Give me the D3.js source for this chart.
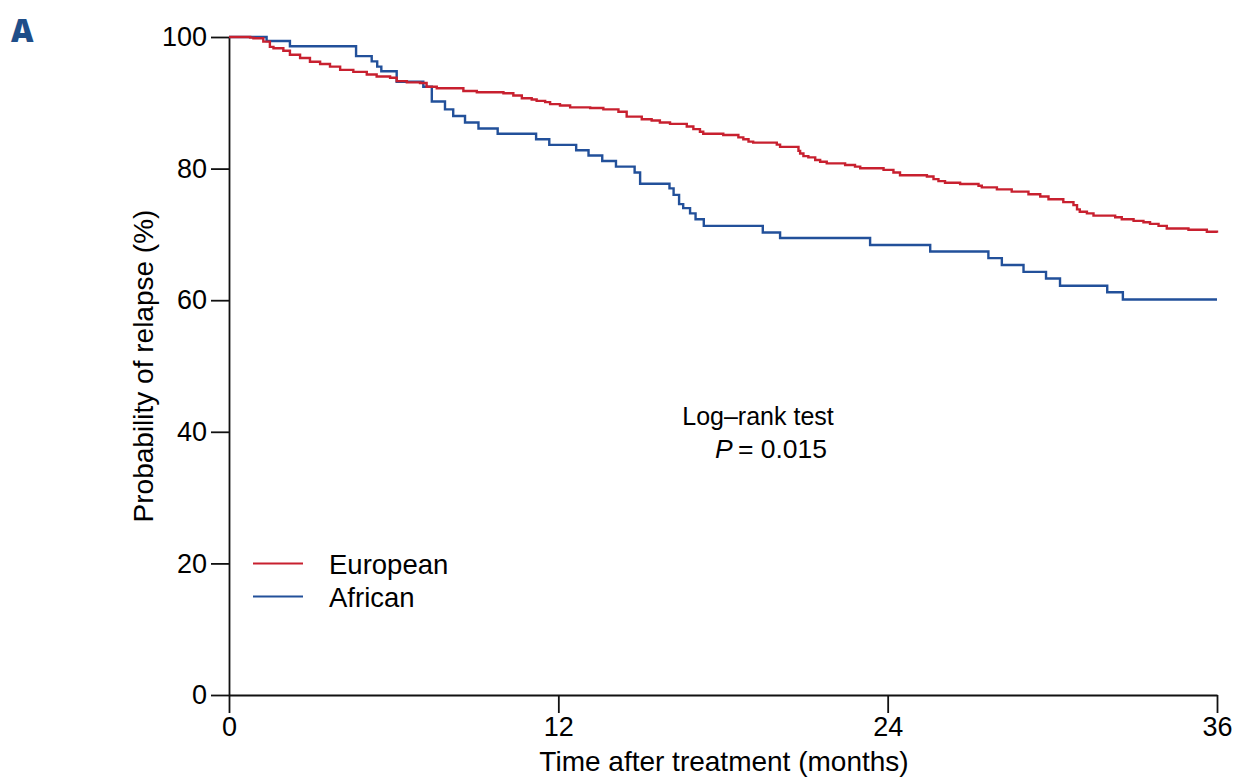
<!DOCTYPE html>
<html>
<head>
<meta charset="utf-8">
<script src="https://cdn.jsdelivr.net/npm/d3@7"></script>
<style>
  html, body { margin: 0; padding: 0; background: #ffffff; }
  svg { display: block; font-family: "Liberation Sans", Arial, Helvetica, sans-serif; }
</style>
</head>
<body>
<svg id="chart" width="1238" height="777"></svg>
<script>
// ---- data ----
const seriesNames = ["European", "African"];
const europeanTime = [0, 0.77, 0.89, 1.25, 1.49, 1.62, 1.98, 2.22, 2.59, 2.95, 3.32, 3.68, 4.05, 4.53, 5.02, 5.38, 5.87, 6.11, 6.48, 6.96, 7.2, 7.57, 8.54, 9.03, 10.0, 10.36, 10.67, 11.03, 11.21, 11.52, 11.7, 12.06, 12.43, 13.16, 13.64, 14.19, 14.49, 15.04, 15.4, 15.7, 16.07, 16.68, 16.92, 17.16, 17.28, 18.01, 18.56, 18.74, 18.93, 19.1, 19.96, 20.08, 20.75, 20.81, 20.93, 21.11, 21.36, 21.54, 21.78, 22.45, 22.81, 23.0, 23.85, 24.21, 24.45, 25.43, 25.67, 25.85, 26.09, 26.64, 27.31, 27.43, 27.98, 28.52, 29.13, 29.56, 29.86, 30.4, 30.77, 30.9, 31.0, 31.26, 31.5, 32.29, 32.53, 32.96, 33.32, 33.56, 33.87, 34.17, 34.96, 35.63, 36];
const europeanValue = [100, 99.9, 99.8, 99.3, 98.5, 98.3, 97.9, 97.3, 96.8, 96.25, 95.9, 95.5, 95.0, 94.7, 94.3, 94.0, 93.8, 93.3, 93.1, 93.0, 92.45, 92.2, 91.8, 91.6, 91.45, 91.1, 90.7, 90.5, 90.3, 90.1, 89.8, 89.6, 89.3, 89.2, 89.0, 88.65, 87.9, 87.5, 87.3, 87.0, 86.8, 86.4, 86.0, 85.6, 85.3, 85.1, 84.75, 84.45, 84.1, 83.95, 83.65, 83.3, 82.7, 82.3, 81.9, 81.7, 81.3, 81.05, 80.8, 80.55, 80.3, 80.05, 79.8, 79.4, 79.0, 78.8, 78.4, 78.1, 77.85, 77.65, 77.4, 77.15, 76.85, 76.5, 76.1, 75.75, 75.35, 74.9, 74.45, 73.8, 73.45, 73.2, 72.85, 72.6, 72.3, 72.05, 71.85, 71.6, 71.3, 70.9, 70.7, 70.4, 70.25];
const africanTime = [0, 1.37, 2.22, 4.63, 5.2, 5.4, 5.55, 6.11, 7.08, 7.39, 7.87, 8.17, 8.6, 9.09, 9.79, 11.19, 11.67, 12.65, 13.1, 13.6, 14.1, 14.78, 14.98, 16.05, 16.2, 16.4, 16.55, 16.8, 17.0, 17.3, 19.45, 20.08, 23.36, 25.55, 27.67, 28.16, 28.95, 29.77, 30.28, 32.0, 32.57, 36];
const africanValue = [100, 99.4, 98.6, 97.1, 96.3, 95.5, 94.8, 93.2, 92.45, 90.2, 89.0, 88.0, 87.0, 86.1, 85.3, 84.45, 83.6, 82.8, 82.0, 81.15, 80.3, 79.4, 77.7, 77.0, 76.0, 74.6, 74.0, 73.2, 72.3, 71.3, 70.3, 69.45, 68.4, 67.4, 66.4, 65.35, 64.3, 63.3, 62.2, 61.2, 60.1, 60.1];
const xTicks = [0, 12, 24, 36];
const yTicks = [0, 20, 40, 60, 80, 100];
const seriesColors = ["#c8202f", "#22509a"];

// ---- layout ----
const svg = d3.select("#chart");
svg.append("rect").attr("width", 1238).attr("height", 777).attr("fill", "#ffffff");

const x = d3.scaleLinear().domain([0, 36]).range([229, 1217]);
const y = d3.scaleLinear().domain([0, 100]).range([695, 37]);

// panel letter
svg.append("text").attr("x", 11).attr("y", 42)
  .attr("font-size", 31).attr("font-weight", "800").attr("fill", "#1f4e89")
  .attr("font-family", "Open Sans, Liberation Sans, sans-serif")
  .text("A");

// axes
const yAxis = svg.append("g").attr("transform", "translate(229,0)")
  .call(d3.axisLeft(y).tickValues(yTicks).tickSize(18).tickPadding(4).tickSizeOuter(0));
const xAxis = svg.append("g").attr("transform", "translate(0,695)")
  .call(d3.axisBottom(x).tickValues(xTicks).tickSize(18).tickPadding(4).tickSizeOuter(0));
[yAxis, xAxis].forEach(g => {
  g.selectAll("path, line").attr("stroke", "#111").attr("stroke-width", 1.8);
  g.selectAll("text").attr("font-size", 27).attr("fill", "#000")
    .attr("font-family", "Liberation Sans, Arial, sans-serif");
});

// axis titles
svg.append("text").attr("x", 724).attr("y", 771).attr("text-anchor", "middle")
  .attr("font-size", 28).attr("fill", "#000").text("Time after treatment (months)");
svg.append("text").attr("transform", "translate(153,366) rotate(-90)").attr("text-anchor", "middle")
  .attr("font-size", 28).attr("fill", "#000").text("Probability of relapse (%)");

// curves
const line = d3.line().x(d => x(d[0])).y(d => y(d[1])).curve(d3.curveStepAfter);
const seriesData = [
  d3.zip(europeanTime, europeanValue),
  d3.zip(africanTime, africanValue)
];
// draw African first, European on top
[1, 0].forEach(i => {
  svg.append("path").datum(seriesData[i]).attr("d", line)
    .attr("fill", "none").attr("stroke", seriesColors[i]).attr("stroke-width", 2.4);
});

// legend
const legendY = [563.5, 596.5];
seriesNames.forEach((name, i) => {
  svg.append("line").attr("x1", 253).attr("x2", 303).attr("y1", legendY[i]).attr("y2", legendY[i])
    .attr("stroke", seriesColors[i]).attr("stroke-width", 2.2);
  svg.append("text").attr("x", 329).attr("y", legendY[i] + 10.5)
    .attr("font-size", 27.5).attr("fill", "#000").text(name);
});

// annotation
svg.append("text").attr("x", 758).attr("y", 425).attr("text-anchor", "middle")
  .attr("font-size", 25).attr("fill", "#000").text("Log\u2013rank test");
const pt = svg.append("text").attr("x", 771).attr("y", 458).attr("text-anchor", "middle")
  .attr("font-size", 26.5).attr("fill", "#000");
pt.append("tspan").attr("font-style", "italic").text("P");
pt.append("tspan").text("\u2009= 0.015");
</script>
</body>
</html>
